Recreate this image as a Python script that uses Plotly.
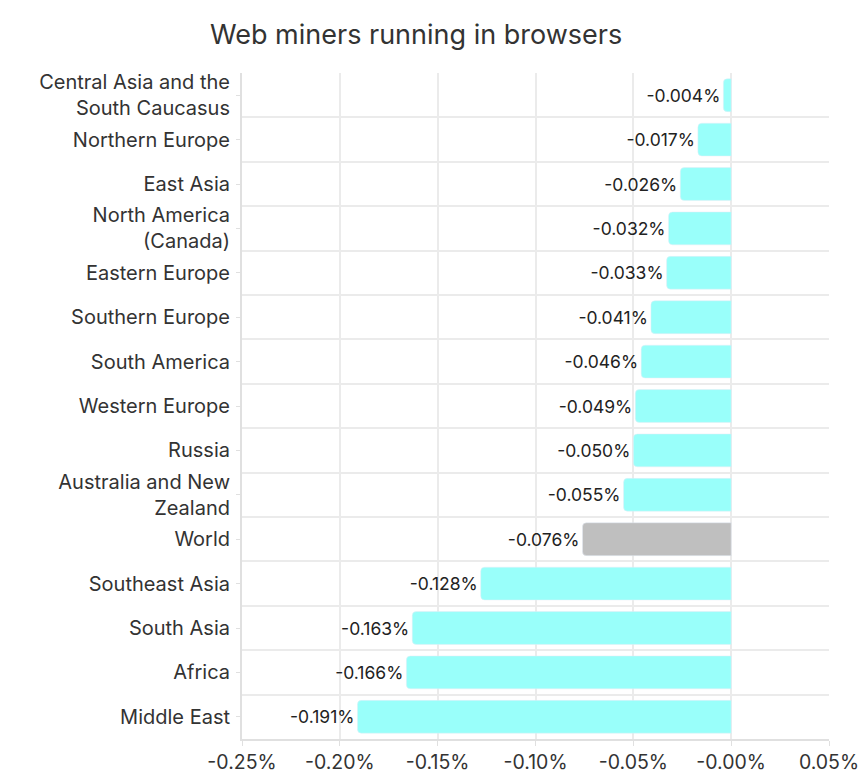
import plotly.graph_objects as go

regions = [
    "Central Asia and the<br>South Caucasus",
    "Northern Europe",
    "East Asia",
    "North America<br>(Canada)",
    "Eastern Europe",
    "Southern Europe",
    "South America",
    "Western Europe",
    "Russia",
    "Australia and New<br>Zealand",
    "World",
    "Southeast Asia",
    "South Asia",
    "Africa",
    "Middle East",
]
change = [-0.004, -0.017, -0.026, -0.032, -0.033, -0.041, -0.046, -0.049,
          -0.050, -0.055, -0.076, -0.128, -0.163, -0.166, -0.191]

tick_vals = [-0.25, -0.20, -0.15, -0.10, -0.05, 0.0, 0.05]
tick_text = ["-0.25%", "-0.20%", "-0.15%", "-0.10%", "-0.05%", "-0.00%", "0.05%"]

CYAN = "#99fffa"
GREY = "#bfbfbf"
colors = [GREY if r == "World" else CYAN for r in regions]

FONT = "Inter"
# page body adds 8px on every side, keep the figure inside the window
W, H = 852, 765
L, R, T, B = 234, 31, 65, 34

fig = go.Figure()
fig.add_trace(go.Bar(
    x=change, y=regions, orientation="h",
    marker=dict(color=colors, line=dict(width=0)),
    texttemplate="%{x:.3f}%", textposition="outside",
    textfont=dict(family=FONT, size=17.5, color="#222222"),
    cliponaxis=False, hoverinfo="skip", showlegend=False,
))
# invisible copy on a second axis, only to draw the tick marks at row centres
fig.add_trace(go.Bar(
    x=change, y=regions, orientation="h", yaxis="y2",
    marker=dict(color="rgba(0,0,0,0)"), hoverinfo="skip", showlegend=False,
))

fig.update_layout(
    width=W, height=H,
    margin=dict(l=L, r=R, t=T, b=B),
    paper_bgcolor="white", plot_bgcolor="white",
    bargap=0.26,
    barcornerradius=4,
    barmode="overlay",
    title=dict(text="Web miners running in browsers",
               x=0.479, xanchor="center", y=0.965, yanchor="middle",
               font=dict(family=FONT, size=27, color="#333333")),
    font=dict(family=FONT, color="#333333"),
    xaxis=dict(range=[-0.25, 0.05], tickvals=tick_vals, ticktext=tick_text,
               automargin=False,
               showgrid=True, gridcolor="#ebebeb", gridwidth=1.5,
               zeroline=False, showline=True, linecolor="#e0e0e0", linewidth=2,
               ticks="outside", ticklen=5, tickcolor="#e0e0e0",
               tickfont=dict(family=FONT, size=19.5, color="#333333")),
    yaxis=dict(autorange="reversed", type="category", tickson="boundaries",
               automargin=False,
               showgrid=True, gridcolor="#ebebeb", gridwidth=1.5,
               showline=True, linecolor="#e0e0e0", linewidth=2,
               ticks="", ticklabelstandoff=6,
               tickfont=dict(family=FONT, size=20, color="#333333")),
    yaxis2=dict(overlaying="y", matches="y", type="category", side="left",
                automargin=False,
                showgrid=False, showline=False, showticklabels=False,
                ticks="outside", ticklen=5, tickcolor="#e0e0e0"),
)

fig.write_html("out.html")
